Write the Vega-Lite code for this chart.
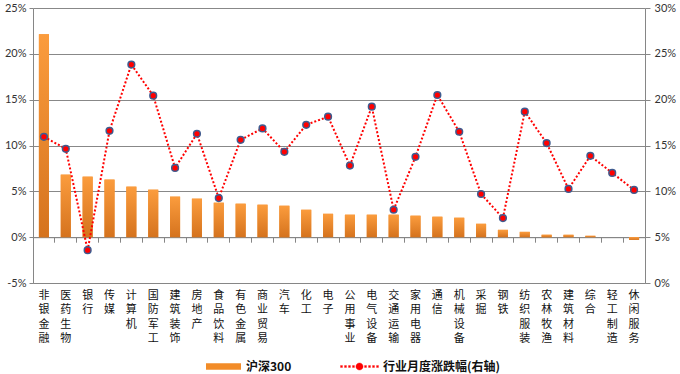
{
  "$schema": "https://vega.github.io/schema/vega-lite/v6.json",
  "width": 612,
  "height": 275,
  "autosize": {"type": "none"},
  "padding": {"left": 33, "top": 8, "right": 35, "bottom": 91},
  "background": "white",
  "config": {
    "view": {"stroke": null},
    "axis": {"labelFont": "Lato", "labelFontSize": 11, "labelColor": "#333333", "domainColor": "#868686", "tickColor": "#868686", "gridColor": "#888888", "titleFont": "Lato"}
  },
  "data": {
    "values": [
      {"name": "非银金融", "hs": 22.15, "ind": 15.95},
      {"name": "医药生物", "hs": 6.82, "ind": 14.64},
      {"name": "银行", "hs": 6.6, "ind": 3.58},
      {"name": "传媒", "hs": 6.28, "ind": 16.6},
      {"name": "计算机", "hs": 5.51, "ind": 23.83},
      {"name": "国防军工", "hs": 5.18, "ind": 20.44},
      {"name": "建筑装饰", "hs": 4.42, "ind": 12.55},
      {"name": "房地产", "hs": 4.2, "ind": 16.28},
      {"name": "食品饮料", "hs": 3.76, "ind": 9.27},
      {"name": "有色金属", "hs": 3.65, "ind": 15.62},
      {"name": "商业贸易", "hs": 3.54, "ind": 16.86},
      {"name": "汽车", "hs": 3.43, "ind": 14.31},
      {"name": "化工", "hs": 2.99, "ind": 17.26},
      {"name": "电子", "hs": 2.55, "ind": 18.14},
      {"name": "公用事业", "hs": 2.45, "ind": 12.81},
      {"name": "电气设备", "hs": 2.45, "ind": 19.23},
      {"name": "交通运输", "hs": 2.45, "ind": 7.99},
      {"name": "家用电器", "hs": 2.34, "ind": 13.76},
      {"name": "通信", "hs": 2.23, "ind": 20.51},
      {"name": "机械设备", "hs": 2.12, "ind": 16.5},
      {"name": "采掘", "hs": 1.46, "ind": 9.71},
      {"name": "钢铁", "hs": 0.8, "ind": 7.08},
      {"name": "纺织服装", "hs": 0.58, "ind": 18.69},
      {"name": "农林牧渔", "hs": 0.26, "ind": 15.26},
      {"name": "建筑材料", "hs": 0.26, "ind": 10.26},
      {"name": "综合", "hs": 0.15, "ind": 13.87},
      {"name": "轻工制造", "hs": 0.0, "ind": 12.01},
      {"name": "休闲服务", "hs": -0.29, "ind": 10.15}
    ]
  },
  "layer": [
    {
      "mark": {"type": "bar", "width": {"band": 0.46}},
      "encoding": {
        "x": {"field": "name", "type": "nominal", "sort": null, "scale": {"paddingInner": 0, "paddingOuter": 0},
          "axis": {"orient": "bottom", "title": null, "labelAngle": 0, "labelExpr": "split(datum.label, '')", "labelFont": "Noto Sans CJK SC", "labelFontSize": 11, "labelLineHeight": 14.5, "labelBaseline": "top", "labelAlign": "center", "labelPadding": 6, "ticks": false, "domain": true, "grid": false, "labelColor": "#111111"}},
        "y": {"field": "hs", "type": "quantitative", "scale": {"domain": [-5, 25], "nice": false, "zero": false},
          "axis": {"orient": "left", "title": null, "values": [-5, 0, 5, 10, 15, 20, 25], "labelExpr": "datum.value + '%'", "grid": true, "gridWidth": 1, "tickSize": 4, "labelPadding": 3, "domain": true}},
        "color": {"datum": "沪深300", "scale": {"range": ["#F28C28"]},
          "legend": {"title": null, "orient": "none", "legendX": 172, "legendY": 340, "padding": 0, "symbolType": "M-1,-0.18H1V0.18H-1Z", "symbolSize": 1225, "labelFont": "Noto Sans CJK SC", "labelFontSize": 12, "labelFontWeight": "bold", "labelColor": "#111111", "labelOffset": 4}}
      }
    },
    {
      "mark": {"type": "bar", "width": {"band": 0.46},
        "fill": {"gradient": "linear", "x1": 0, "y1": 0, "x2": 0, "y2": 1, "stops": [{"offset": 0, "color": "#FB9C3D"}, {"offset": 1, "color": "#D5731E"}]}},
      "encoding": {
        "x": {"field": "name", "type": "nominal", "sort": null, "axis": null},
        "y": {"field": "hs", "type": "quantitative", "scale": {"domain": [-5, 25], "nice": false, "zero": false}, "axis": null}
      }
    },
    {
      "mark": {"type": "line", "strokeWidth": 2, "strokeDash": [2, 2]},
      "encoding": {
        "x": {"field": "name", "type": "nominal", "sort": null,
          "axis": {"orient": "bottom", "offset": -45.8, "labels": false, "title": null, "ticks": true, "tickSize": 5, "bandPosition": 0, "domain": true, "grid": false}},
        "y": {"field": "ind", "type": "quantitative", "scale": {"domain": [0, 30], "nice": false},
          "axis": {"orient": "right", "title": null, "values": [0, 5, 10, 15, 20, 25, 30], "labelExpr": "datum.value + '%'", "grid": false, "tickSize": 5, "labelPadding": 4, "domain": true}},
        "stroke": {"datum": "行业月度涨跌幅(右轴)", "scale": {"range": ["#FF0000"]},
          "legend": {"title": null, "orient": "none", "legendX": 307, "legendY": 339, "padding": 0,
            "symbolType": "M-1,-0.053h0.105v0.106h-0.105Z M-0.79,-0.053h0.105v0.106h-0.105Z M-0.58,-0.053h0.105v0.106h-0.105Z M-0.37,-0.053h0.105v0.106h-0.105Z M0.265,-0.053h0.105v0.106h-0.105Z M0.475,-0.053h0.105v0.106h-0.105Z M0.685,-0.053h0.105v0.106h-0.105Z M0.895,-0.053h0.105v0.106h-0.105Z M-0.19,0A0.19,0.19 0 1,0 0.19,0A0.19,0.19 0 1,0 -0.19,0Z",
            "symbolSize": 1444, "labelFont": "Noto Sans CJK SC", "labelFontSize": 12, "labelFontWeight": "bold", "labelColor": "#111111", "labelOffset": 4,
            "encode": {"symbols": {"update": {"fill": {"value": "#FF0000"}, "stroke": {"value": "#FF0000"}, "strokeWidth": {"value": 0.3}, "strokeDash": {"value": [1, 0]}}}}}}
      }
    },
    {
      "mark": {"type": "point", "filled": true, "fill": "#FF0000", "stroke": "#3F5B8F", "strokeWidth": 1.5, "size": 45, "opacity": 1},
      "encoding": {
        "x": {"field": "name", "type": "nominal", "sort": null, "axis": null},
        "y": {"field": "ind", "type": "quantitative", "scale": {"domain": [0, 30], "nice": false}, "axis": null}
      }
    }
  ],
  "resolve": {"scale": {"y": "independent"}, "axis": {"x": "independent"}}
}
